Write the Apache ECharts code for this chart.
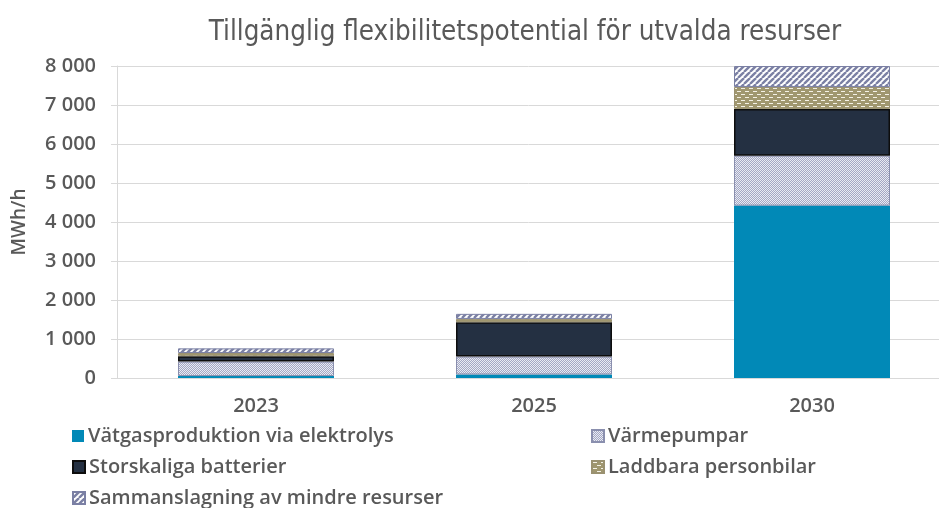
<!DOCTYPE html>
<html>
<head>
<meta charset="utf-8">
<script src="https://cdn.jsdelivr.net/npm/echarts@6/dist/echarts.min.js"></script>
<style>html,body{margin:0;padding:0;background:#fff;}#c{width:939px;height:508px;}</style>
</head>
<body>
<div id="c"></div>
<script>
const categories = ['2023', '2025', '2030'];
const seriesNames = ['Vätgasproduktion via elektrolys', 'Värmepumpar', 'Storskaliga batterier', 'Laddbara personbilar', 'Sammanslagning av mindre resurser'];
const vatgas = [50, 90, 4420];
const varmepumpar = [370, 460, 1280];
const batterier = [140, 880, 1200];
const laddbara = [80, 85, 560];
const sammanslagning = [120, 130, 540];
const yTicks = [0, 1000, 2000, 3000, 4000, 5000, 6000, 7000, 8000];

function pattern(w, h, draw) {
  const c = document.createElement('canvas');
  c.width = w; c.height = h;
  const ctx = c.getContext('2d');
  draw(ctx);
  return { image: c, repeat: 'repeat' };
}
const checker = pattern(2, 2, ctx => {
  ctx.fillStyle = '#a3a7c4'; ctx.fillRect(0, 0, 2, 2);
  ctx.fillStyle = '#e9ebf2'; ctx.fillRect(0, 0, 1, 1); ctx.fillRect(1, 1, 1, 1);
});
const brick = pattern(8, 6, ctx => {
  ctx.fillStyle = '#a0976f'; ctx.fillRect(0, 0, 8, 6);
  ctx.fillStyle = '#f4f1e6'; ctx.fillRect(1, 1, 4, 1); ctx.fillRect(5, 4, 3, 1); ctx.fillRect(0, 4, 1, 1);
});
const stripes = pattern(6, 6, ctx => {
  ctx.fillStyle = '#ffffff'; ctx.fillRect(0, 0, 6, 6);
  ctx.strokeStyle = '#7b80a4'; ctx.lineWidth = 2.4;
  for (let k = -6; k <= 12; k += 6) {
    ctx.beginPath(); ctx.moveTo(k, 6); ctx.lineTo(k + 6, 0); ctx.stroke();
  }
});

const txt = '#595959';
const font = "'Open Sans', 'Liberation Sans', sans-serif";
const chart = echarts.init(document.getElementById('c'));
const mk = (name, data, color, border, bw) => ({
  name, type: 'bar', stack: 'a', data, barWidth: 156,
  itemStyle: { color, borderColor: border, borderWidth: bw },
  emphasis: { disabled: true }
});
const legendPos = [[72, 436], [591, 436], [72, 467], [591, 467], [72, 498]];
const legends = seriesNames.map((n, i) => ({
  orient: 'horizontal', left: legendPos[i][0], top: legendPos[i][1] - 11, padding: 0,
  itemWidth: 12, itemHeight: 12, itemGap: 4, icon: 'rect', data: [n],
  textStyle: { color: txt, fontSize: 20, fontWeight: 600, fontFamily: font, lineHeight: 22, padding: [0, 0, 0, -1] }
}));
chart.setOption({
  animation: false,
  title: {
    text: 'Tillgänglig flexibilitetspotential för utvalda resurser',
    left: 520, top: 14, textAlign: 'center',
    textStyle: { color: txt, fontSize: 27.5, fontWeight: 'normal', fontFamily: "'Liberation Sans Narrow', 'DejaVu Sans Condensed', sans-serif" }
  },
  legend: legends,
  grid: { left: 117, top: 66, width: 834, height: 312, outerBoundsMode: 'none', containLabel: false },
  xAxis: {
    type: 'category', data: categories,
    axisLine: { lineStyle: { color: '#d9d9d9' } },
    axisTick: { show: false },
    axisLabel: { color: txt, fontSize: 20, fontWeight: 600, fontFamily: font, margin: 18 }
  },
  yAxis: {
    type: 'value', min: yTicks[0], max: yTicks[yTicks.length - 1], interval: 1000,
    name: 'MWh/h', nameLocation: 'middle', nameGap: 88, nameRotate: 90,
    nameTextStyle: { color: txt, fontSize: 19, fontWeight: 600, fontFamily: font },
    axisLine: { show: true, lineStyle: { color: '#d9d9d9' } },
    axisTick: { show: true, length: 6, lineStyle: { color: '#d9d9d9' } },
    splitLine: { lineStyle: { color: '#d9d9d9' } },
    axisLabel: { color: txt, fontSize: 20, fontWeight: 600, fontFamily: font, margin: 21,
      formatter: v => String(v).replace(/\B(?=(\d{3})+(?!\d))/g, ' ') }
  },
  series: [
    mk(seriesNames[0], vatgas, '#0189b7', '#0189b7', 0),
    mk(seriesNames[1], varmepumpar, checker, '#8a8fae', 1),
    mk(seriesNames[2], batterier, '#243042', '#0d0d0d', 1.5),
    mk(seriesNames[3], laddbara, brick, '#9a9170', 1),
    mk(seriesNames[4], sammanslagning, stripes, '#7b80a4', 1)
  ]
});
</script>
</body>
</html>
